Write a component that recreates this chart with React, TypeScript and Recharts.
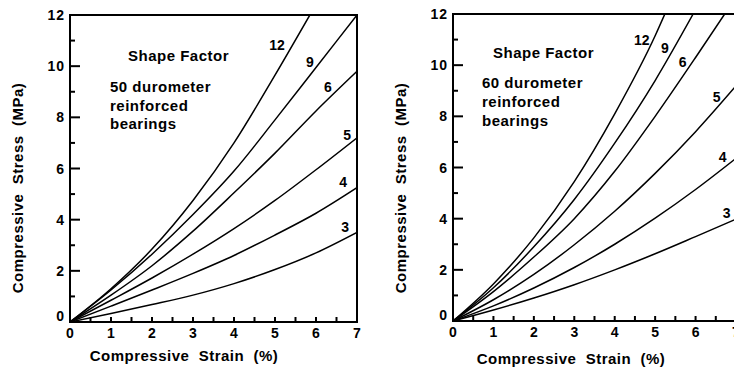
import { LineChart, Line, XAxis, YAxis, ReferenceArea, ReferenceDot } from 'recharts';

// axis ticks
const STRAIN_TICKS = [0, 0.5, 1, 1.5, 2, 2.5, 3, 3.5, 4, 4.5, 5, 5.5, 6, 6.5, 7];
const STRESS_TICKS = [0, 1, 2, 3, 4, 5, 6, 7, 8, 9, 10, 11, 12];

// 50 durometer bearings
const STRAIN_50 = [0, 1, 2, 3, 4, 5, 6, 7];
const STRAIN_50_SF12 = [0, 1, 2, 3, 4, 5, 5.85];
const STRESS_50_SF3 = [0, 0.33, 0.68, 1.05, 1.5, 2.05, 2.7, 3.5];
const STRESS_50_SF4 = [0, 0.62, 1.25, 1.9, 2.6, 3.4, 4.25, 5.25];
const STRESS_50_SF5 = [0, 0.85, 1.72, 2.65, 3.65, 4.75, 5.95, 7.2];
const STRESS_50_SF6 = [0, 1.05, 2.2, 3.55, 5.05, 6.6, 8.25, 9.8];
const STRESS_50_SF9 = [0, 1.25, 2.65, 4.2, 5.9, 7.9, 9.95, 12];
const STRESS_50_SF12 = [0, 1.3, 2.85, 4.75, 7.0, 9.65, 12];

// 60 durometer bearings
const STRAIN_60 = [0, 1, 2, 3, 4, 5, 6, 7];
const STRAIN_60_SF6 = [0, 1, 2, 3, 4, 5, 6, 6.72];
const STRAIN_60_SF9 = [0, 1, 2, 3, 4, 5, 5.94];
const STRAIN_60_SF12 = [0, 1, 2, 3, 4, 5, 5.24];
const STRESS_60_SF3 = [0, 0.43, 0.9, 1.42, 2.0, 2.63, 3.3, 3.98];
const STRESS_60_SF4 = [0, 0.59, 1.29, 2.09, 3.0, 4.02, 5.14, 6.36];
const STRESS_60_SF5 = [0, 0.83, 1.82, 2.98, 4.29, 5.77, 7.4, 9.19];
const STRESS_60_SF6 = [0, 1.15, 2.5, 4.0, 5.85, 8.0, 10.3, 12];
const STRESS_60_SF9 = [0, 1.3, 2.9, 4.75, 6.95, 9.4, 12];
const STRESS_60_SF12 = [0, 1.45, 3.25, 5.45, 8.1, 11.15, 12];

// shape factor label positions [strain, stress]
const LABELS_50: [string, number, number][] = [
  ['12', 5.05, 10.82],
  ['9', 5.85, 10.16],
  ['6', 6.29, 9.18],
  ['5', 6.76, 7.3],
  ['4', 6.66, 5.47],
  ['3', 6.71, 3.71],
];
const LABELS_60: [string, number, number][] = [
  ['12', 4.67, 10.99],
  ['9', 5.24, 10.67],
  ['6', 5.68, 10.13],
  ['5', 6.52, 8.77],
  ['4', 6.67, 6.42],
  ['3', 6.77, 4.22],
];

const FONT = "'Liberation Sans', Arial, sans-serif";

function toPoints(strain: number[], stress: number[]) {
  return strain.map((s, i) => ({ strain: s, stress: stress[i] }));
}

const CURVES_50 = [
  toPoints(STRAIN_50, STRESS_50_SF3),
  toPoints(STRAIN_50, STRESS_50_SF4),
  toPoints(STRAIN_50, STRESS_50_SF5),
  toPoints(STRAIN_50, STRESS_50_SF6),
  toPoints(STRAIN_50, STRESS_50_SF9),
  toPoints(STRAIN_50_SF12, STRESS_50_SF12),
];

const CURVES_60 = [
  toPoints(STRAIN_60, STRESS_60_SF3),
  toPoints(STRAIN_60, STRESS_60_SF4),
  toPoints(STRAIN_60, STRESS_60_SF5),
  toPoints(STRAIN_60_SF6, STRESS_60_SF6),
  toPoints(STRAIN_60_SF9, STRESS_60_SF9),
  toPoints(STRAIN_60_SF12, STRESS_60_SF12),
];

function StressTick(props: any) {
  const { x, y, payload } = props;
  const value = payload.value as number;
  const major = value % 2 === 0;
  return (
    <g>
      <line x1={x} x2={x + (major ? 10 : 5)} y1={y} y2={y} stroke="#000" strokeWidth={2} />
      {major ? (
        <text
          x={x - 5}
          y={value === 0 ? y - 6 : y}
          dy="0.36em"
          textAnchor="end"
          fontSize={14}
          fontWeight="bold"
          letterSpacing={1}
          fill="#000"
        >
          {value}
        </text>
      ) : null}
    </g>
  );
}

function StrainTick(props: any) {
  const { x, y, payload } = props;
  const value = payload.value as number;
  const major = Number.isInteger(value);
  return (
    <g>
      <line x1={x} x2={x} y1={y} y2={y - 5} stroke="#000" strokeWidth={2} />
      {major ? (
        <text x={x} y={y + 11} dy="0.36em" textAnchor="middle" fontSize={14} fontWeight="bold" fill="#000">
          {value}
        </text>
      ) : null}
    </g>
  );
}

interface PanelProps {
  left: number;
  width: number;
  margin: { top: number; right: number; bottom: number; left: number };
  curves: { strain: number; stress: number }[][];
  labels: [string, number, number][];
}

function Panel(props: PanelProps) {
  return (
    <div style={{ position: 'absolute', left: props.left, top: 0 }}>
      <LineChart width={props.width} height={370} margin={props.margin}>
        <XAxis
          type="number"
          dataKey="strain"
          domain={[0, 7]}
          ticks={STRAIN_TICKS}
          interval={0}
          height={30}
          axisLine={false}
          tickLine={false}
          tickSize={0}
          tickMargin={0}
          tick={<StrainTick />}
          allowDataOverflow
        />
        <YAxis
          type="number"
          dataKey="stress"
          domain={[0, 12]}
          ticks={STRESS_TICKS}
          interval={0}
          width={30}
          axisLine={false}
          tickLine={false}
          tickSize={0}
          tickMargin={0}
          tick={<StressTick />}
          allowDataOverflow
        />
        {props.curves.map((points, i) => (
          <Line
            key={i}
            data={points}
            dataKey="stress"
            type="monotone"
            stroke="#000"
            strokeWidth={1.5}
            dot={false}
            activeDot={false}
            isAnimationActive={false}
          />
        ))}
        <ReferenceArea
          x1={0}
          x2={7}
          y1={0}
          y2={12}
          fill="none"
          fillOpacity={0}
          stroke="#000"
          strokeWidth={2}
          strokeOpacity={1}
          ifOverflow="visible"
        />
        {props.labels.map(([text, x, y]) => (
          <ReferenceDot
            key={text}
            x={x}
            y={y}
            r={0}
            fill="none"
            stroke="none"
            ifOverflow="visible"
            label={{ value: text, position: 'center', fontSize: 14, fontWeight: 'bold', fill: '#000' }}
          />
        ))}
      </LineChart>
    </div>
  );
}

const textStyle = {
  fontSize: 15,
  fontWeight: 'bold' as const,
  fill: '#000',
  letterSpacing: 0.5,
  xmlSpace: 'preserve',
  style: { whiteSpace: 'pre' as const },
};

export default function App() {
  return (
    <div
      style={{
        position: 'fixed',
        left: 0,
        top: 0,
        width: 734,
        height: 370,
        overflow: 'hidden',
        background: '#fff',
        fontFamily: FONT,
      }}
    >
      <Panel
        left={0}
        width={370}
        margin={{ top: 15, right: 13, bottom: 18, left: 40 }}
        curves={CURVES_50}
        labels={LABELS_50}
      />
      <Panel
        left={370}
        width={380}
        margin={{ top: 14, right: 14, bottom: 19, left: 53 }}
        curves={CURVES_60}
        labels={LABELS_60}
      />
      <svg
        width={734}
        height={370}
        style={{ position: 'absolute', left: 0, top: 0, pointerEvents: 'none' }}
      >
        <text x={128} y={61} {...textStyle}>Shape Factor</text>
        <text x={110} y={92} {...textStyle}>50 durometer</text>
        <text x={110} y={111} {...textStyle}>reinforced</text>
        <text x={110} y={129} {...textStyle}>bearings</text>

        <text x={493} y={58} {...textStyle}>Shape Factor</text>
        <text x={482} y={88} {...textStyle}>60 durometer</text>
        <text x={482} y={107} {...textStyle}>reinforced</text>
        <text x={482} y={126} {...textStyle}>bearings</text>

        <text x={184} y={361} textAnchor="middle" {...textStyle}>{'Compressive  Strain  (%)'}</text>
        <text x={571} y={364} textAnchor="middle" {...textStyle}>{'Compressive  Strain  (%)'}</text>

        <text x={0} y={0} transform="translate(23 188) rotate(-90)" textAnchor="middle" {...textStyle}>
          {'Compressive  Stress  (MPa)'}
        </text>
        <text x={0} y={0} transform="translate(406 188) rotate(-90)" textAnchor="middle" {...textStyle}>
          {'Compressive  Stress  (MPa)'}
        </text>
      </svg>
    </div>
  );
}
